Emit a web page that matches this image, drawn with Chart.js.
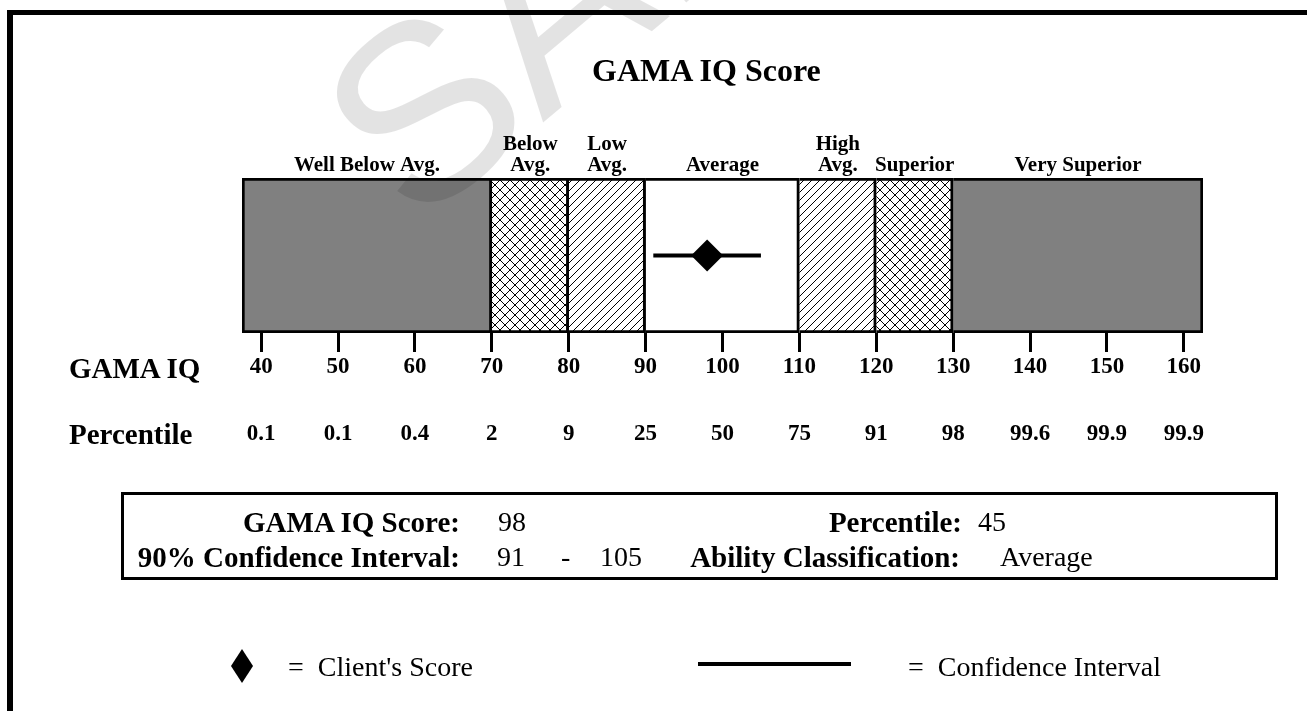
<!DOCTYPE html>
<html>
<head>
<meta charset="utf-8">
<title>GAMA IQ Score</title>
<script src="https://cdn.jsdelivr.net/npm/chart.js@4.4.1/dist/chart.umd.min.js"></script>
<style>
  html, body { margin: 0; padding: 0; background: #fff; }
  #page { position: relative; width: 1307px; height: 711px; overflow: hidden;
          font-family: "Liberation Serif", "Times New Roman", serif; color: #000; }
  #wrap { position: absolute; left: 0; top: 0; width: 1307px; height: 711px; }
  .frame { position: absolute; left: 7px; top: 10px; width: 1400px; height: 800px;
           border-top: 5px solid #000; border-left: 6px solid #000; }
  .t { position: absolute; white-space: pre; line-height: 30px; }
  .title { position: absolute; left: 592px; top: 51px; font-weight: bold; font-size: 32px;
           line-height: 38px; white-space: pre; }
  .lbl { font-weight: bold; font-size: 29px; }
  .val { font-size: 28px; }
  .row { font-weight: bold; font-size: 29px; }
  .summary { position: absolute; left: 121px; top: 492px; width: 1157px; height: 88px;
             border: 3px solid #000; box-sizing: border-box; }
  .ciline { position: absolute; left: 698px; top: 662px; width: 153px; height: 4px; background: #000; }
</style>
</head>
<body>
<div id="page">
  <div id="wrap"><canvas id="chart"></canvas></div>
  <div class="frame"></div>
  <div class="title">GAMA IQ Score</div>

  <div class="t row" style="left:69px; top:353px;">GAMA IQ</div>
  <div class="t row" style="left:69px; top:419px;">Percentile</div>

  <div class="summary"></div>
  <div class="t lbl" style="right:847px; top:507px;">GAMA IQ Score:</div>
  <div class="t val" id="scoreVal" style="left:498px; top:507px;"></div>
  <div class="t lbl" style="right:345px; top:507px;">Percentile:</div>
  <div class="t val" id="pctVal" style="left:978px; top:507px;"></div>
  <div class="t lbl" style="right:847px; top:542px;">90% Confidence Interval:</div>
  <div class="t val" id="ciLow" style="left:497px; top:542px;"></div>
  <div class="t val" style="left:561px; top:542px;">-</div>
  <div class="t val" id="ciHigh" style="left:600px; top:542px;"></div>
  <div class="t lbl" style="right:347px; top:542px;">Ability Classification:</div>
  <div class="t val" id="classVal" style="left:1000px; top:542px;"></div>

  <svg style="position:absolute; left:231px; top:649px;" width="22" height="34">
    <polygon points="11,0 22,17 11,34 0,17" fill="#000"></polygon>
  </svg>
  <div class="t val" style="left:288px; top:652px;">=  Client's Score</div>
  <div class="ciline"></div>
  <div class="t val" style="left:908px; top:652px;">=  Confidence Interval</div>
</div>

<script>
var iqTicks = [40, 50, 60, 70, 80, 90, 100, 110, 120, 130, 140, 150, 160];
var percentiles = ['0.1', '0.1', '0.4', '2', '9', '25', '50', '75', '91', '98', '99.6', '99.9', '99.9'];
var bandNames = [['Well Below Avg.'], ['Below', 'Avg.'], ['Low', 'Avg.'], ['Average'], ['High', 'Avg.'], ['Superior'], ['Very Superior']];
var bandStart = [37.5, 70, 80, 90, 110, 120, 130];
var bandEnd = [70, 80, 90, 110, 120, 130, 162.5];
var bandFill = ['gray', 'cross', 'hatch', 'white', 'hatch', 'cross', 'gray'];
var clientScore = 98;
var ciRange = [91, 105];
var clientPercentile = 45;
var classification = 'Average';

var serif = '"Liberation Serif", "Times New Roman", serif';
var canvas = document.getElementById('chart');
var ctx0 = canvas.getContext('2d');

document.getElementById('scoreVal').textContent = clientScore;
document.getElementById('pctVal').textContent = clientPercentile;
document.getElementById('ciLow').textContent = ciRange[0];
document.getElementById('ciHigh').textContent = ciRange[1];
document.getElementById('classVal').textContent = classification;

// hatch fills for the bands
function makePattern(kind) {
  var size = kind === 'cross' ? 10 : 8;
  var c = document.createElement('canvas');
  c.width = size;
  c.height = size;
  var g = c.getContext('2d');
  g.fillStyle = '#fff';
  g.fillRect(0, 0, size, size);
  g.strokeStyle = '#000';
  g.lineWidth = 1;
  g.beginPath();
  g.moveTo(0, size); g.lineTo(size, 0);
  g.moveTo(-2, 2); g.lineTo(2, -2);
  g.moveTo(size - 2, size + 2); g.lineTo(size + 2, size - 2);
  if (kind === 'cross') {
    g.moveTo(0, 0); g.lineTo(size, size);
    g.moveTo(-2, size - 2); g.lineTo(2, size + 2);
    g.moveTo(size - 2, -2); g.lineTo(size + 2, 2);
  }
  g.stroke();
  return ctx0.createPattern(c, 'repeat');
}

var fills = {
  gray: '#808080',
  white: '#ffffff',
  cross: makePattern('cross'),
  hatch: makePattern('hatch')
};

var bandSets = bandNames.map(function(name, i) {
  return {
    type: 'bar',
    label: name.join(' '),
    indexAxis: 'y',
    xAxisID: 'x',
    yAxisID: 'y',
    data: [[bandStart[i], bandEnd[i]]],
    backgroundColor: fills[bandFill[i]],
    borderColor: '#000',
    borderWidth: { top: 3, bottom: 3, left: i === 0 ? 3 : 0, right: 3 },
    borderSkipped: false,
    grouped: false,
    categoryPercentage: 1,
    barPercentage: 1,
    order: 2
  };
});

// faint "SAMPLE" stamp over the top of the page
var watermark = {
  id: 'watermark',
  afterDraw: function(chart) {
    var ctx = chart.ctx;
    ctx.save();
    ctx.translate(415, 230);
    ctx.rotate(-40 * Math.PI / 180);
    ctx.font = '250px "Liberation Sans", Arial, sans-serif';
    ctx.fillStyle = 'rgba(0,0,0,0.11)';
    ctx.fillText('SAMPLE', 0, 0);
    ctx.restore();
  }
};

function sameTicks(scale) {
  scale.ticks = iqTicks.map(function(v) { return { value: v }; });
}

function fixHeight(h) {
  return function(scale) { scale.height = h; };
}

var chart = new Chart(canvas, {
  data: {
    labels: ['GAMA IQ'],
    datasets: [
      {
        type: 'line',
        label: "Client's Score",
        xAxisID: 'x',
        yAxisID: 'y',
        data: [{ x: clientScore, y: 'GAMA IQ' }],
        showLine: false,
        pointStyle: 'rectRot',
        pointRadius: 16,
        pointBackgroundColor: '#000',
        pointBorderWidth: 0,
        order: 0
      },
      {
        type: 'line',
        label: '90% Confidence Interval',
        xAxisID: 'x',
        yAxisID: 'y',
        data: [{ x: ciRange[0], y: 'GAMA IQ' }, { x: ciRange[1], y: 'GAMA IQ' }],
        borderColor: '#000',
        borderWidth: 4,
        pointRadius: 0,
        fill: false,
        order: 1
      }
    ].concat(bandSets)
  },
  plugins: [watermark],
  options: {
    responsive: true,
    maintainAspectRatio: false,
    animation: false,
    events: [],
    layout: {
      padding: { left: 242, right: 104, top: 133, bottom: 263 }
    },
    plugins: {
      legend: { display: false },
      tooltip: { enabled: false },
      title: { display: false }
    },
    scales: {
      x: {
        type: 'linear',
        position: 'bottom',
        weight: 0,
        min: 37.5,
        max: 162.5,
        afterBuildTicks: sameTicks,
        afterFit: fixHeight(47),
        grid: { drawOnChartArea: false, drawTicks: true, tickLength: 19, tickWidth: 3, tickColor: '#000' },
        border: { display: false },
        ticks: {
          color: '#000',
          padding: 1,
          maxRotation: 0,
          autoSkip: false,
          font: { family: serif, size: 23, weight: 'bold', lineHeight: 1.2 }
        }
      },
      xp: {
        type: 'linear',
        position: 'bottom',
        weight: 1,
        min: 37.5,
        max: 162.5,
        afterBuildTicks: sameTicks,
        afterFit: fixHeight(68),
        grid: { display: false, drawTicks: false },
        border: { display: false },
        ticks: {
          color: '#000',
          padding: 40,
          maxRotation: 0,
          autoSkip: false,
          callback: function(v, i) { return percentiles[i]; },
          font: { family: serif, size: 23, weight: 'bold', lineHeight: 1.2 }
        }
      },
      xt: {
        type: 'linear',
        position: 'top',
        min: 37.5,
        max: 162.5,
        afterBuildTicks: function(scale) {
          scale.ticks = bandStart.map(function(a, i) { return { value: (a + bandEnd[i]) / 2 }; });
        },
        afterFit: fixHeight(45),
        grid: { display: false, drawTicks: false },
        border: { display: false },
        ticks: {
          color: '#000',
          padding: 2,
          maxRotation: 0,
          autoSkip: false,
          callback: function(v, i) { return bandNames[i]; },
          font: { family: serif, size: 21, weight: 'bold', lineHeight: 1.0 }
        }
      },
      y: {
        type: 'category',
        display: false
      }
    }
  }
});
</script>
</body>
</html>
